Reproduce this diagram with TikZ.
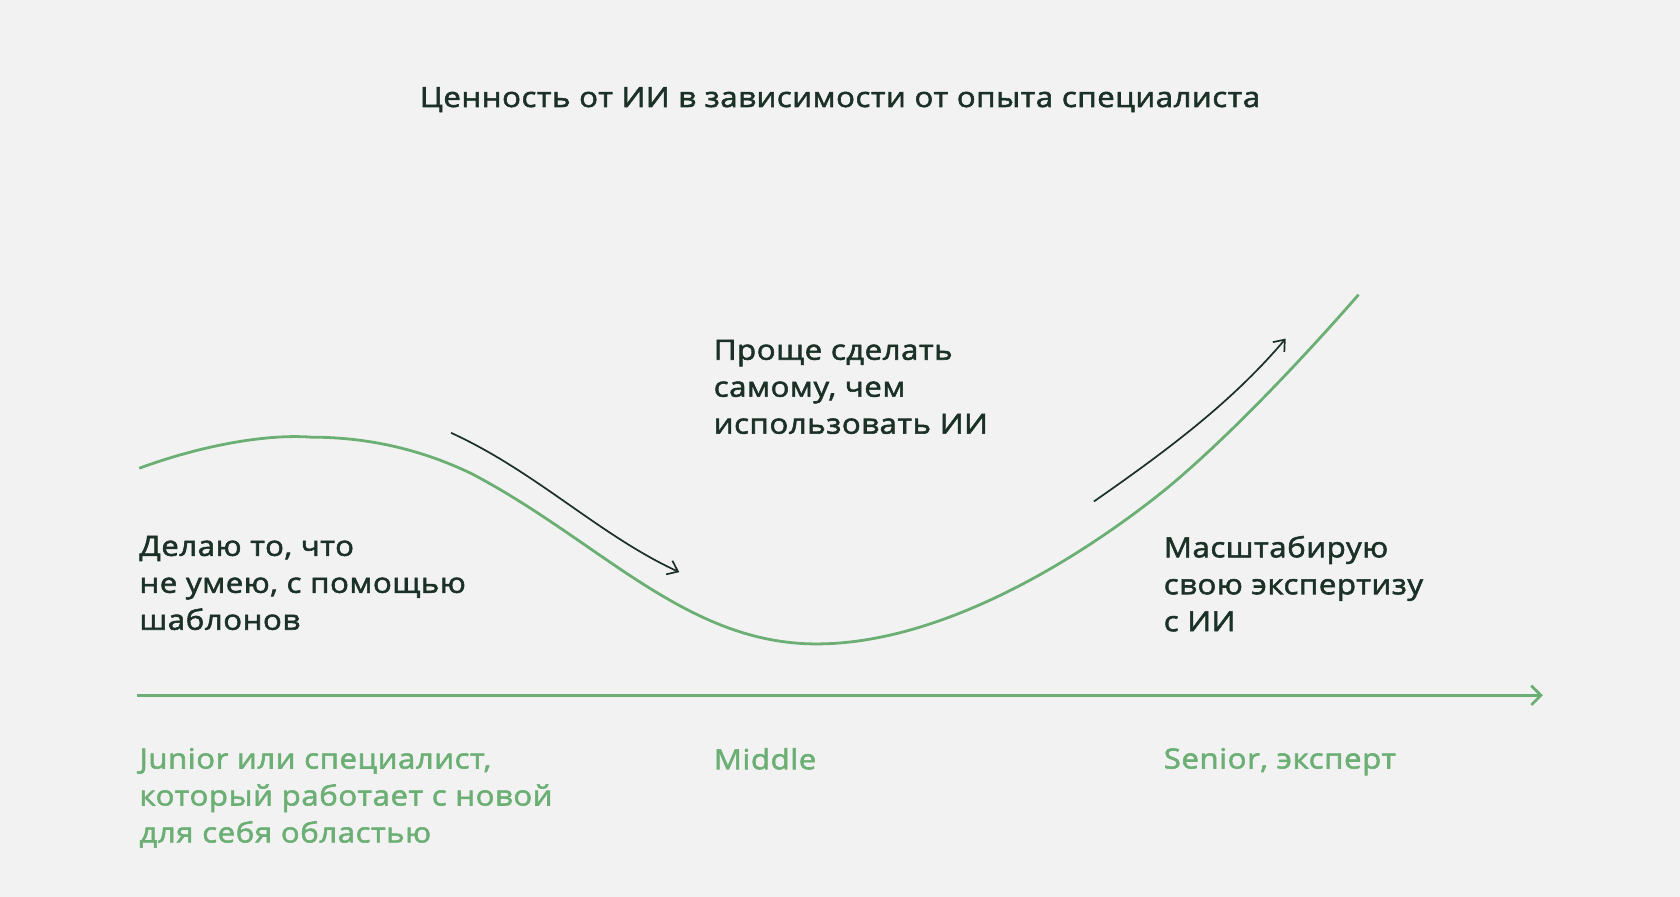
\documentclass[tikz,border=0pt]{standalone}
\usepackage{fontspec}
\setmainfont{Open Sans}[FakeBold=2,FakeStretch=1.12,LetterSpace=2]
\usetikzlibrary{arrows.meta}
\definecolor{bg}{HTML}{F2F2F2}
\definecolor{gr}{HTML}{6BAF74}
\definecolor{dk}{HTML}{1B3127}
\tikzset{
  lbl/.style={anchor=north west,align=left,text=dk,font=\fontsize{26}{34.5}\selectfont,inner sep=0pt},
  glbl/.style={lbl,text=gr},
  arr/.style={draw=dk,line width=1.6pt,-{Straight Barb[length=9pt,width=14pt]}},
}
\begin{document}
\begin{tikzpicture}[x=1pt,y=-1pt]
\fill[bg] (0,0) rectangle (1568,837);
\useasboundingbox (0,0) rectangle (1568,837);
\node[lbl,anchor=center,font=\fontsize{26}{30}\selectfont] (title) at (784,93) {Ценность от ИИ в зависимости от опыта специалиста};
\coordinate (c0) at (130,437);
\coordinate (c1) at (290,408);
\coordinate (c2) at (762,601);
\coordinate (c3) at (1268,275);
\draw[gr,line width=2.6pt] (c0) .. controls (190,415) and (250,405) .. (c1)
  .. controls (340,408) and (390,418) .. (440,442)
  .. controls (560,505) and (640,601) .. (c2)
  .. controls (880,601) and (1010,520) .. (1090,455)
  .. controls (1150,405) and (1220,330) .. (c3);
\coordinate (ax0) at (128,649);
\coordinate (ax1) at (1440,649);
\draw[gr,line width=2.6pt,-{Straight Barb[length=9pt,width=18pt]}] (ax0) -- (ax1);
\coordinate (a1s) at (421,404);
\coordinate (a1e) at (634,534);
\draw[arr] (a1s) .. controls (500,440) and (560,500) .. (a1e);
\coordinate (a2s) at (1021,468);
\coordinate (a2e) at (1200,316);
\draw[arr] (a2s) .. controls (1090,420) and (1150,375) .. (a2e);
\node[lbl] (t1) at (130,500) {Делаю то, что\\не умею, с помощью\\шаблонов};
\node[lbl] (t2) at (666,317) {Проще сделать\\самому, чем\\использовать ИИ};
\node[lbl] (t3) at (1086,500) {Масштабирую\\свою экспертизу\\с ИИ};
\node[glbl] (g1) at (130,698) {Junior или специалист,\\который работает с новой\\для себя областью};
\node[glbl] (g2) at (666,698) {Middle};
\node[glbl] (g3) at (1086,698) {Senior, эксперт};
\end{tikzpicture}
\end{document}
